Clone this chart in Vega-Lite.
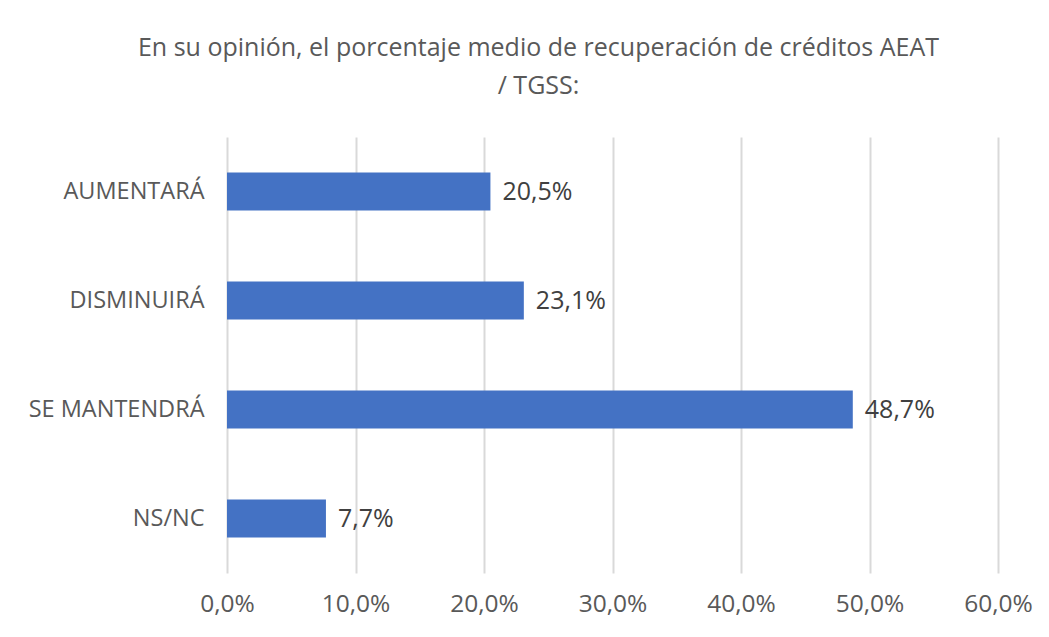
{
  "$schema": "https://vega.github.io/schema/vega-lite/v6.json",
  "width": 771,
  "height": 436,
  "autosize": {"type": "none"},
  "padding": {"left": 227, "top": 137, "right": 51, "bottom": 64},
  "background": "white",
  "config": {
    "locale": {"number": {"decimal": ",", "thousands": ".", "grouping": [3], "currency": ["", " €"]}},
    "view": {"stroke": null},
    "font": "Open Sans"
  },
  "title": {
    "text": ["En su opinión, el porcentaje medio de recuperación de créditos AEAT", "/ TGSS:"],
    "anchor": "middle",
    "frame": "group",
    "dx": -74,
    "offset": 38,
    "fontSize": 25,
    "font": "Open Sans",
    "fontWeight": "normal",
    "color": "#595959",
    "lineHeight": 38
  },
  "data": {
    "values": [
      {"respuesta": "AUMENTARÁ", "valor": 0.205},
      {"respuesta": "DISMINUIRÁ", "valor": 0.231},
      {"respuesta": "SE MANTENDRÁ", "valor": 0.487},
      {"respuesta": "NS/NC", "valor": 0.077}
    ]
  },
  "encoding": {
    "y": {
      "field": "respuesta",
      "type": "nominal",
      "sort": null,
      "scale": {"paddingInner": 0.65, "paddingOuter": 0.325},
      "axis": {
        "title": null,
        "ticks": false,
        "domain": false,
        "labelPadding": 23,
        "labelFontSize": 23.5,
        "labelColor": "#595959",
        "labelFont": "Open Sans"
      }
    },
    "x": {
      "field": "valor",
      "type": "quantitative",
      "scale": {"domain": [0, 0.6], "nice": false},
      "axis": {
        "title": null,
        "format": ".1%",
        "values": [0, 0.1, 0.2, 0.3, 0.4, 0.5, 0.6],
        "domain": false,
        "ticks": false,
        "grid": true,
        "gridColor": "#d9d9d9",
        "gridWidth": 2,
        "labelFlush": false,
        "labelPadding": 19,
        "labelFontSize": 24.5,
        "labelColor": "#595959",
        "labelFont": "Open Sans"
      }
    }
  },
  "layer": [
    {"mark": {"type": "bar", "color": "#4472C4"}},
    {
      "mark": {"type": "text", "align": "left", "dx": 12, "fontSize": 25, "color": "#404040", "font": "Open Sans"},
      "encoding": {"text": {"field": "valor", "type": "quantitative", "format": ".1%"}}
    }
  ]
}
